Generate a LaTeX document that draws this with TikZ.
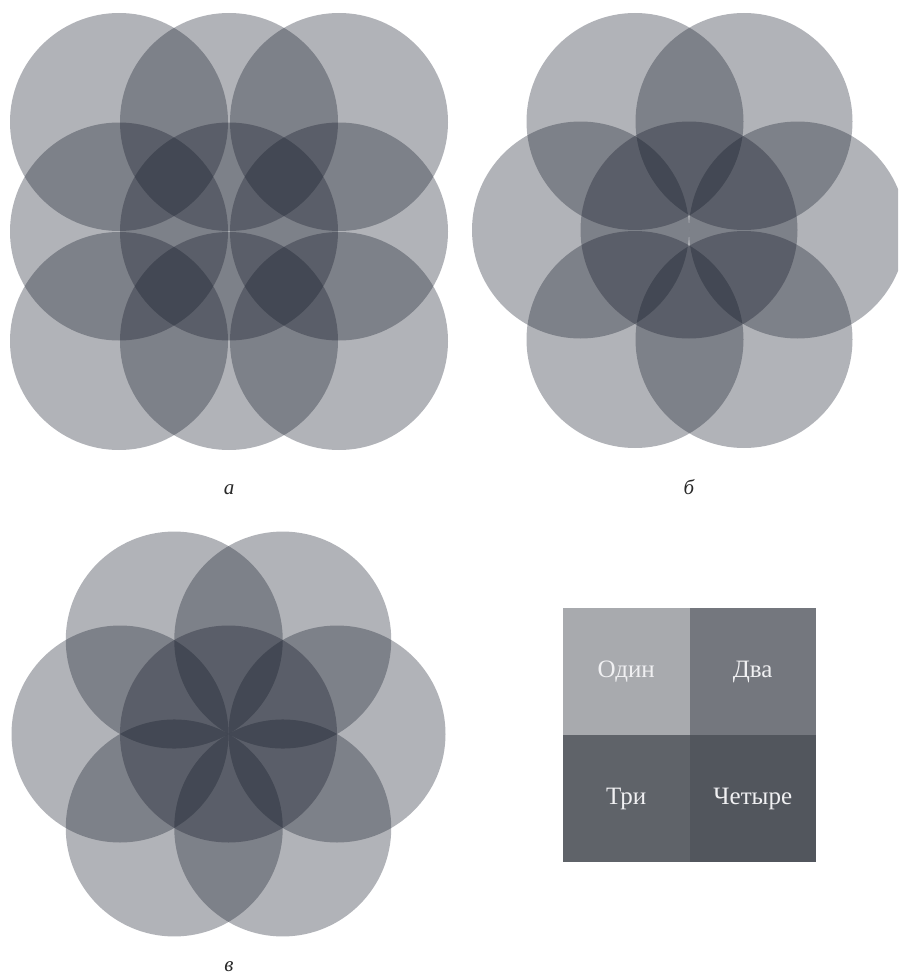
\documentclass[tikz,border=0pt]{standalone}
\usepackage{fontspec}
\setmainfont{Liberation Serif}
\usetikzlibrary{calc}
\definecolor{circ}{RGB}{19,25,40}
\definecolor{legone}{RGB}{168,170,174}
\definecolor{legtwo}{RGB}{116,119,126}
\definecolor{legthree}{RGB}{95,99,105}
\definecolor{legfour}{RGB}{82,86,93}
\definecolor{legtext}{RGB}{240,240,242}
\definecolor{labcol}{RGB}{40,40,40}
\begin{document}
\begin{tikzpicture}[x=1pt,y=-1pt,
  disc/.style={fill=circ, fill opacity=0.33},
  lab/.style={font=\fontsize{21}{21}\selectfont\itshape, anchor=base, text=labcol, inner sep=0pt},
  cell/.style={minimum width=126.5pt, minimum height=127pt, inner sep=0pt, text=legtext, font=\fontsize{25}{25}\selectfont}
]
\useasboundingbox (0,0) rectangle (898,974);
\clip (0,0) rectangle (898,974);

% figure a: 3x3 grid
\foreach \cx in {119,229,339}{
  \foreach \cy in {122,231.5,341}{
    \fill[disc] (\cx,\cy) circle (109pt);
  }
}

% figure b
\foreach \cx/\cy in {689/230, 580.5/230, 797.5/230, 635/121.5, 744/121.5, 635/339.5, 744/339.5}{
  \fill[disc] (\cx,\cy) circle (108.5pt);
}

% figure c: regular hexagonal rosette
\coordinate (cc) at (228.5,734);
\fill[disc] (cc) circle (108.5pt);
\foreach \a in {0,60,...,300}{
  \fill[disc] ($(cc)+(\a:108.5pt)$) circle (108.5pt);
}

% legend
\node[cell, fill=legone]   (one)   at (626.25,671.5) {Один};
\node[cell, fill=legtwo]   (two)   at (752.75,671.5) {Два};
\node[cell, fill=legthree] (three) at (626.25,798.5) {Три};
\node[cell, fill=legfour]  (four)  at (752.75,798.5) {Четыре};

% labels
\node[lab] (la) at (229,494) {а};
\node[lab] (lb) at (689,494) {б};
\node[lab] (lc) at (229,971) {в};
\end{tikzpicture}
\end{document}
